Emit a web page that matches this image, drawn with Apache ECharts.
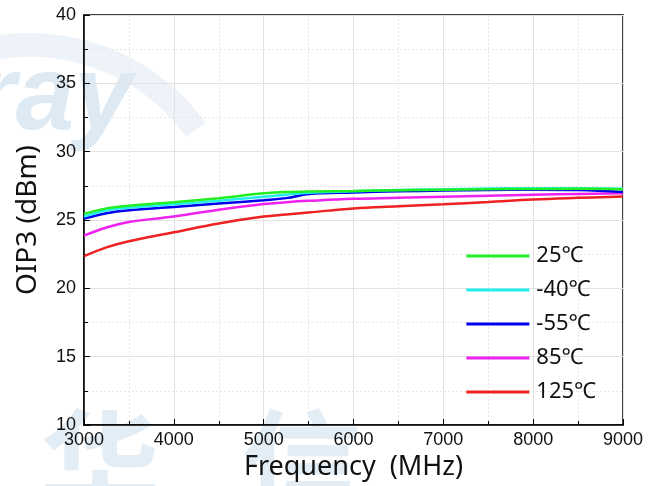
<!DOCTYPE html>
<html><head><meta charset="utf-8">
<script src="https://cdn.jsdelivr.net/npm/echarts@6/dist/echarts.min.js"></script>
<style>html,body{margin:0;padding:0;background:#fff}#c{width:661px;height:486px}</style>
</head><body><div id="c"></div>
<script>
const freq = [3000, 3250, 3500, 4000, 4500, 5000, 5250, 5500, 6000, 6500, 7000, 7500, 8000, 8500, 9000];
const t25  = [25.45, 25.85, 26.05, 26.30, 26.60, 26.95, 27.05, 27.08, 27.12, 27.18, 27.22, 27.25, 27.27, 27.28, 27.25];
const tm40 = [25.25, 25.70, 25.90, 26.15, 26.40, 26.70, 26.85, 27.00, 27.10, 27.20, 27.25, 27.30, 27.32, 27.32, 27.28];
const tm55 = [25.10, 25.50, 25.72, 25.95, 26.20, 26.45, 26.60, 26.90, 27.02, 27.10, 27.15, 27.20, 27.22, 27.20, 27.05];
const t85  = [23.85, 24.45, 24.85, 25.25, 25.75, 26.17, 26.30, 26.40, 26.55, 26.62, 26.70, 26.78, 26.85, 26.90, 26.95];
const t125 = [22.35, 23.00, 23.45, 24.10, 24.75, 25.25, 25.40, 25.55, 25.85, 26.00, 26.15, 26.32, 26.50, 26.62, 26.72];
const names = ['25℃', '-40℃', '-55℃', '85℃', '125℃'];
const colors = ['#22ee22', '#22eeee', '#0000ee', '#ee22ee', '#ee2222'];
const xTicks = [3000, 4000, 5000, 6000, 7000, 8000, 9000];
const yTicks = [10, 15, 20, 25, 30, 35, 40];
const sets = [t25, tm40, tm55, t85, t125];

const chart = echarts.init(document.getElementById('c'));
const tickFont = {fontFamily: 'Liberation Sans, Arial', fontSize: 18, color: '#111'};
chart.setOption({
  animation: false,
  backgroundColor: '#fff',
  graphic: [
    {type: 'arc', z: -10, silent: true, shape: {cx: 30, cy: 250, r: 205, startAngle: Math.PI * 1.4, endAngle: Math.PI * 1.8},
     style: {stroke: '#edf3f8', lineWidth: 24, fill: null}},
    {type: 'text', left: -25, top: 48, z: -10, silent: true,
     style: {text: 'ray', font: 'italic bold 105px Liberation Sans', fill: '#dde9f3'}},
    {type: 'text', left: 40, top: 405, z: -10, silent: true,
     style: {text: '华   信', font: 'bold 120px Noto Sans CJK SC', fill: '#e3edf5'}}
  ],
  grid: {left: 84, right: 38, top: 15, bottom: 61, show: true, borderColor: '#000', borderWidth: 1.5, backgroundColor: 'transparent'},
  legend: {
    orient: 'vertical', right: 60, top: 238, itemGap: 8,
    itemWidth: 63, itemHeight: 24,
    data: names.map((n, i) => ({name: n, icon: 'path://M0,0 L63,0 L63,3 L0,3 Z', itemStyle: {color: colors[i]}})),
    textStyle: {fontFamily: 'Noto Sans, Open Sans', fontSize: 22, color: '#111', padding: [0, 0, 0, 2], lineHeight: 26, height: 26}
  },
  xAxis: {
    type: 'value', min: 3000, max: 9000, interval: 1000,
    name: 'Frequency  (MHz)', nameLocation: 'middle', nameGap: 28,
    nameTextStyle: {fontFamily: 'Noto Sans, Open Sans', fontSize: 27, color: '#111'},
    axisLine: {show: true, lineStyle: {color: '#000', width: 1.5}},
    axisTick: {show: true, inside: true, length: 6, lineStyle: {color: '#000'}},
    minorTick: {show: true, splitNumber: 2, length: 4, lineStyle: {color: '#000'}},
    axisLabel: Object.assign({margin: 6, formatter: v => xTicks.includes(v) ? String(v) : ''}, tickFont),
    splitLine: {show: true, lineStyle: {color: '#e2e2e2', width: 1}},
    minorSplitLine: {show: true, lineStyle: {color: '#e6e6e6', type: [2, 2], width: 1}}
  },
  yAxis: {
    type: 'value', min: 10, max: 40, interval: 5,
    name: 'OIP3 (dBm)', nameLocation: 'middle', nameGap: 42,
    nameTextStyle: {fontFamily: 'Noto Sans, Open Sans', fontSize: 28, color: '#111'},
    axisLine: {show: true, lineStyle: {color: '#000', width: 1.5}},
    axisTick: {show: true, inside: true, length: 6, lineStyle: {color: '#000'}},
    minorTick: {show: true, splitNumber: 2, length: 4, lineStyle: {color: '#000'}},
    axisLabel: Object.assign({margin: 8, formatter: v => yTicks.includes(v) ? String(v) : ''}, tickFont),
    splitLine: {show: true, lineStyle: {color: '#e2e2e2', width: 1}},
    minorSplitLine: {show: true, lineStyle: {color: '#e6e6e6', type: [2, 2], width: 1}}
  },
  series: sets.map((d, i) => ({
    name: names[i], type: 'line', smooth: 0.4, symbol: 'none',
    data: freq.map((f, j) => [f, d[j]]),
    lineStyle: {color: colors[i], width: 2.5},
    itemStyle: {color: colors[i]},
    z: 10 - i
  }))
});
</script></body></html>
